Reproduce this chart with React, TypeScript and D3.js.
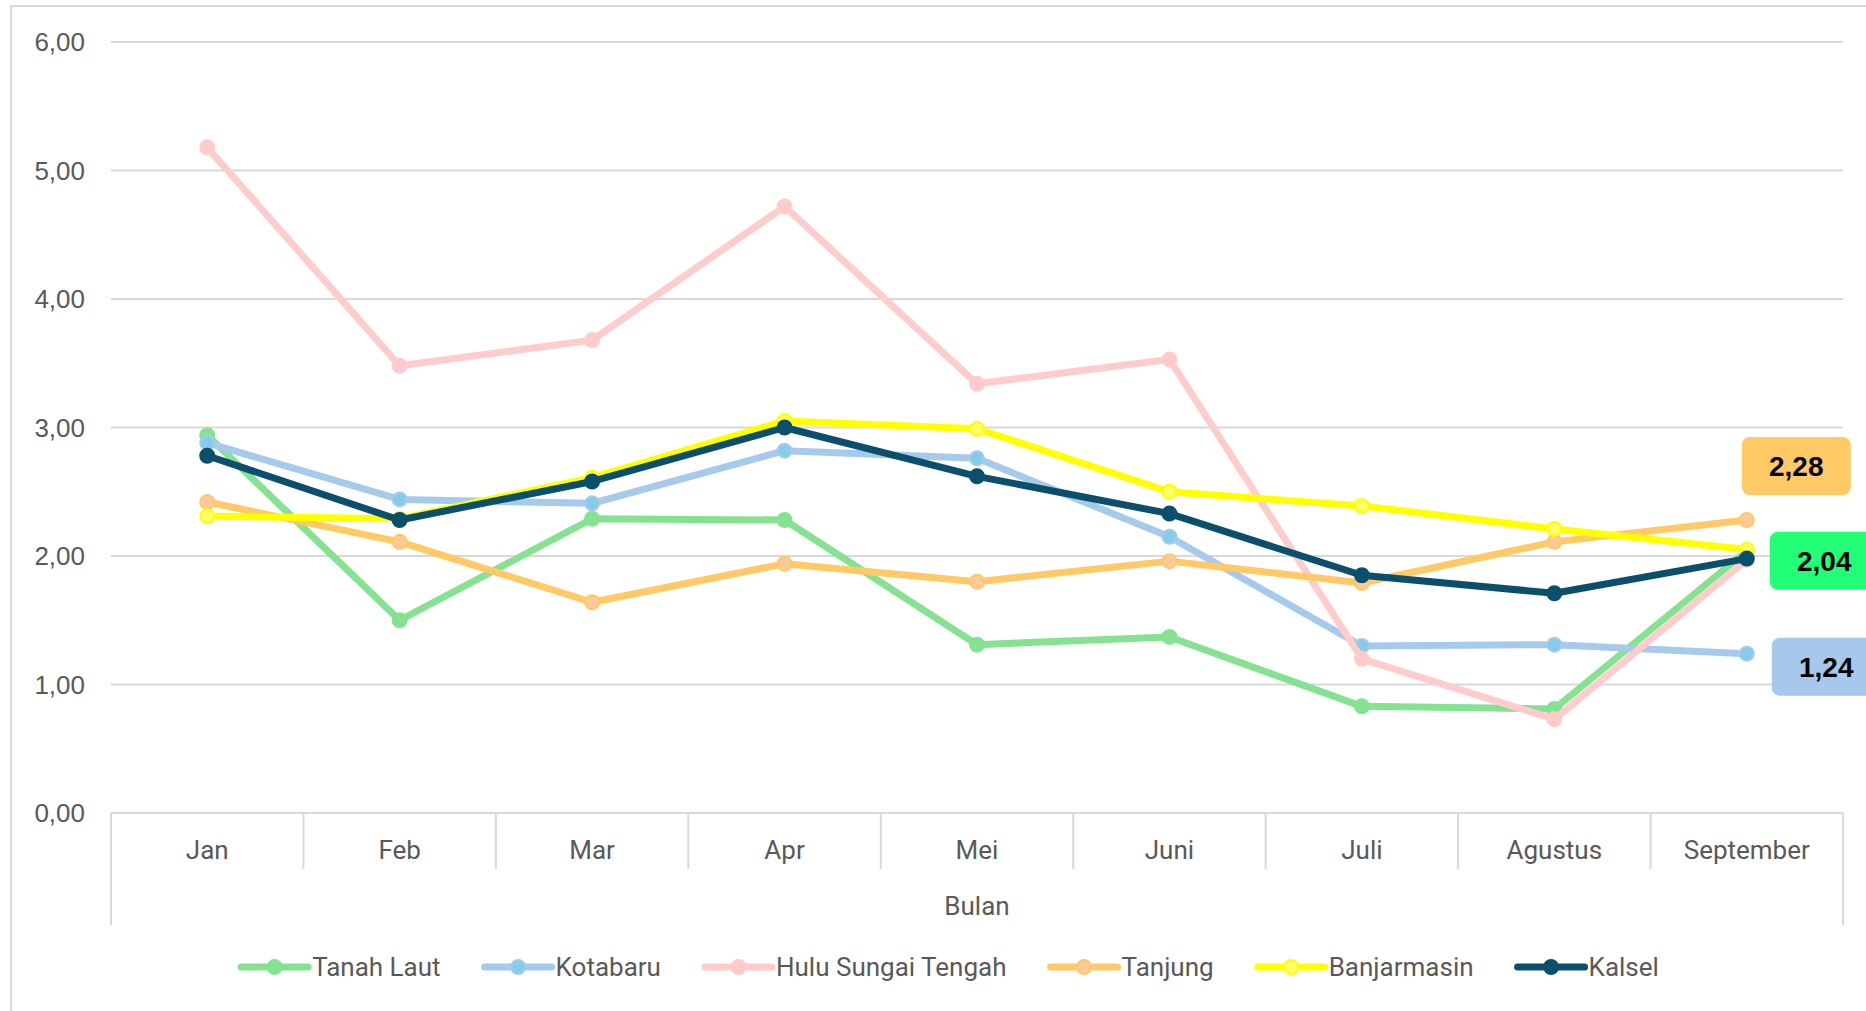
import React, { useEffect, useRef } from "react";
import * as d3 from "d3";

// data
const months = ["Jan", "Feb", "Mar", "Apr", "Mei", "Juni", "Juli", "Agustus", "September"];
const tanahLaut = [2.94, 1.5, 2.29, 2.28, 1.31, 1.37, 0.83, 0.81, 2.04];
const kotabaru = [2.88, 2.44, 2.41, 2.82, 2.76, 2.15, 1.3, 1.31, 1.24];
const huluSungaiTengah = [5.18, 3.48, 3.68, 4.72, 3.34, 3.53, 1.2, 0.73, 1.97];
const tanjung = [2.42, 2.11, 1.64, 1.94, 1.8, 1.96, 1.79, 2.11, 2.28];
const banjarmasin = [2.31, 2.29, 2.61, 3.05, 2.99, 2.5, 2.39, 2.21, 2.05];
const kalsel = [2.78, 2.28, 2.58, 3.0, 2.62, 2.33, 1.85, 1.71, 1.98];
const yTicks = [0, 1, 2, 3, 4, 5, 6];
const axisTitle = "Bulan";

const series = [
  { name: "Tanah Laut", values: tanahLaut, stroke: "#84E291", fill: "#84E291" },
  { name: "Kotabaru", values: kotabaru, stroke: "#A6CAEC", fill: "#83CCEB" },
  { name: "Hulu Sungai Tengah", values: huluSungaiTengah, stroke: "#FFCCCC", fill: "#FFCACA" },
  { name: "Tanjung", values: tanjung, stroke: "#FFC966", fill: "#FFC999" },
  { name: "Banjarmasin", values: banjarmasin, stroke: "#FFFF00", fill: "#FFFF66" },
  { name: "Kalsel", values: kalsel, stroke: "#0B4F6C", fill: "#0B4F6C" },
];

// end-of-line value boxes
const endLabels = [
  { series: "Tanjung", bg: "#FFC966", dx: -5, dy: -83 },
  { series: "Tanah Laut", bg: "#22FF77", dx: 23, dy: -19 },
  { series: "Kotabaru", bg: "#A6C8EC", dx: 25, dy: -16 },
];

const W = 1866;
const H = 1011;
const grid = "#D9D9D9";
const textCol = "#595959";
const catFont = "Roboto, 'DejaVu Sans', sans-serif";

const fmt = (v: number) => d3.format(".2f")(v).replace(".", ",");

const App = () => {
  const svgRef = useRef<SVGSVGElement>(null);

  useEffect(() => {
    const svg = d3.select(svgRef.current);
    svg.selectAll("*").remove();

    const margin = { left: 111, right: 23, top: 42, bottom: 198 };

    const x = d3
      .scaleBand()
      .domain(months)
      .range([margin.left, W - margin.right])
      .padding(0);
    const y = d3
      .scaleLinear()
      .domain([0, 6])
      .range([H - margin.bottom, margin.top]);

    // chart border
    svg
      .append("rect")
      .attr("x", 11)
      .attr("y", 6)
      .attr("width", W + 40)
      .attr("height", H + 40)
      .attr("fill", "#fff")
      .attr("stroke", grid)
      .attr("stroke-width", 2);

    // gridlines + y labels
    const yg = svg.append("g");
    yg.selectAll("line")
      .data(yTicks)
      .join("line")
      .attr("x1", margin.left)
      .attr("x2", W - margin.right)
      .attr("y1", (d) => y(d))
      .attr("y2", (d) => y(d))
      .attr("stroke", grid)
      .attr("stroke-width", 2);
    yg.selectAll("text")
      .data(yTicks)
      .join("text")
      .attr("x", 85)
      .attr("y", (d) => y(d) + 9)
      .attr("text-anchor", "end")
      .attr("font-family", "'Liberation Sans', Arial, sans-serif")
      .attr("font-size", 26)
      .attr("fill", textCol)
      .text((d) => fmt(d));

    // category box lines
    const y0 = y(0);
    const bounds = months.map((m) => x(m)!).concat([x.range()[1]]);
    svg
      .append("g")
      .selectAll("line")
      .data(bounds)
      .join("line")
      .attr("x1", (d) => d)
      .attr("x2", (d) => d)
      .attr("y1", y0)
      .attr("y2", (d, i) => (i === 0 || i === bounds.length - 1 ? y0 + 112 : y0 + 56))
      .attr("stroke", grid)
      .attr("stroke-width", 2);

    svg
      .append("g")
      .selectAll("text")
      .data(months)
      .join("text")
      .attr("x", (d) => x(d)! + x.bandwidth() / 2)
      .attr("y", y0 + 46)
      .attr("text-anchor", "middle")
      .attr("font-family", catFont)
      .attr("font-size", 26)
      .attr("fill", textCol)
      .text((d) => d);

    svg
      .append("text")
      .attr("x", (x.range()[0] + x.range()[1]) / 2)
      .attr("y", y0 + 102)
      .attr("text-anchor", "middle")
      .attr("font-family", catFont)
      .attr("font-size", 26)
      .attr("fill", textCol)
      .text(axisTitle);

    // lines
    const cx = (i: number) => x(months[i])! + x.bandwidth() / 2;
    const line = d3
      .line<number>()
      .x((d, i) => cx(i))
      .y((d) => y(d));

    series.forEach((s) => {
      const g = svg.append("g");
      g.append("path")
        .datum(s.values)
        .attr("d", line)
        .attr("fill", "none")
        .attr("stroke", s.stroke)
        .attr("stroke-width", 7)
        .attr("stroke-linejoin", "round");
      g.selectAll("circle")
        .data(s.values)
        .join("circle")
        .attr("cx", (d, i) => cx(i))
        .attr("cy", (d) => y(d))
        .attr("r", 7)
        .attr("fill", s.fill)
        .attr("stroke", s.stroke)
        .attr("stroke-width", 2);
    });

    // value boxes at september
    const last = months.length - 1;
    endLabels.forEach((l) => {
      const s = series.find((d) => d.name === l.series)!;
      const v = s.values[last];
      const bx = cx(last) + l.dx;
      const by = y(v) + l.dy;
      svg
        .append("rect")
        .attr("x", bx)
        .attr("y", by)
        .attr("width", 109)
        .attr("height", 58)
        .attr("rx", 8)
        .attr("fill", l.bg);
      svg
        .append("text")
        .attr("x", bx + 54.5)
        .attr("y", by + 39)
        .attr("text-anchor", "middle")
        .attr("font-family", "'Liberation Sans', Arial, sans-serif")
        .attr("font-weight", "bold")
        .attr("font-size", 28)
        .attr("fill", "#000")
        .text(fmt(v));
    });

    // legend
    const legend = svg.append("g");
    const symW = 67;
    const gapText = 4;
    const gapItem = 44;
    let pos = 0;
    const items: { g: any; w: number }[] = [];
    series.forEach((s) => {
      const g = legend.append("g");
      g.append("line")
        .attr("x1", 0)
        .attr("x2", symW)
        .attr("y1", 0)
        .attr("y2", 0)
        .attr("stroke", s.stroke)
        .attr("stroke-width", 7)
        .attr("stroke-linecap", "round");
      g.append("circle")
        .attr("cx", symW / 2)
        .attr("cy", 0)
        .attr("r", 7)
        .attr("fill", s.fill)
        .attr("stroke", s.stroke)
        .attr("stroke-width", 2);
      const t = g
        .append("text")
        .attr("x", symW + gapText)
        .attr("y", 9)
        .attr("font-family", catFont)
        .attr("font-size", 26)
        .attr("fill", textCol)
        .text(s.name);
      const tw = (t.node() as SVGTextElement).getComputedTextLength();
      const w = symW + gapText + tw;
      items.push({ g, w });
    });
    const total = d3.sum(items, (d) => d.w) + gapItem * (items.length - 1);
    pos = 950 - total / 2;
    items.forEach((it) => {
      it.g.attr("transform", `translate(${pos},967)`);
      pos += it.w + gapItem;
    });
  }, []);

  return (
    <div style={{ position: "absolute", left: 0, top: 0 }}>
      <svg ref={svgRef} width={W} height={H}></svg>
    </div>
  );
};

export default App;
